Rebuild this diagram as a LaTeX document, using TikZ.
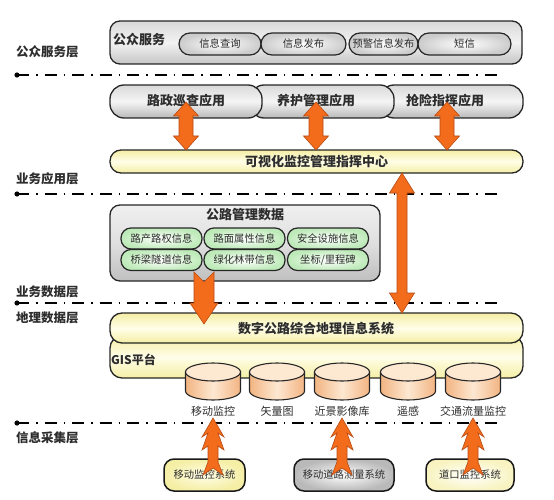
\documentclass[tikz,border=0pt]{standalone}
\usepackage{fontspec}
\setmainfont{Noto Sans CJK SC}
\usetikzlibrary{shapes.geometric}

\definecolor{arrfill}{RGB}{242,108,28}
\definecolor{arrline}{RGB}{185,75,20}
\definecolor{yelA}{RGB}{245,238,165}
\definecolor{yelB}{RGB}{255,254,232}
\definecolor{grnA}{RGB}{190,234,185}
\definecolor{cylA}{RGB}{242,180,130}
\definecolor{cylB}{RGB}{253,232,210}
\definecolor{txt}{RGB}{45,45,45}

\tikzset{
  layerline/.style={line width=1.5pt, dash pattern=on 12pt off 7pt on 1.5pt off 7pt},
  layerlabel/.style={anchor=west, inner sep=0pt, text=txt, font=\fontsize{12.5}{14}\selectfont\bfseries},
  boxtext/.style={inner sep=0pt, text=txt, font=\fontsize{11}{13}\selectfont},
  smalltext/.style={inner sep=0pt, text=txt, font=\fontsize{10.3}{12}\selectfont},
  bigtext/.style={inner sep=0pt, text=txt, font=\fontsize{13}{15}\selectfont\bfseries},
  outerbox/.style={draw=black!85, line width=1.3pt, rounded corners=10pt, top color=gray!30, bottom color=gray!45, middle color=gray!10},
  pubpill/.style={draw=black!85, line width=1.2pt, rounded corners=11pt, minimum height=22, inner color=white, outer color=gray!40},
  appbox/.style={draw=black!85, line width=1.3pt, rounded corners=14pt, minimum height=33, top color=gray!30, bottom color=gray!55, middle color=gray!8},
  yelbar/.style={draw=black!85, line width=1.3pt, rounded corners=11pt, top color=yelA, bottom color=yelA, middle color=yelB},
  grnpill/.style={draw=black!85, line width=1.2pt, rounded corners=10pt, minimum width=81, minimum height=21, inner color=white, outer color=grnA},
  srcbox/.style={draw=black!90, line width=1.5pt, rounded corners=10pt, minimum height=32},
  blockarrow/.style={fill=arrfill, draw=arrline, line width=0.6pt, line join=miter},
  cylbody/.style={draw=black!85, line width=1.1pt, left color=cylA, right color=cylA, middle color=cylB},
}

\begin{document}
\begin{tikzpicture}[x=1pt,y=1pt,yscale=-1]
\useasboundingbox (0,0) rectangle (554,500);

% layer separators
\foreach \ly in {75,194,303,423} {
  \draw[layerline] (17,\ly) -- (500,\ly);
  \fill (17,\ly) circle (2.6);
}
\node[layerlabel] (lab1) at (16,52) {公众服务层};
\node[layerlabel] (lab2) at (16,179) {业务应用层};
\node[layerlabel] (lab3) at (16,292) {业务数据层};
\node[layerlabel] (lab4) at (16,318) {地理数据层};
\node[layerlabel] (lab5) at (16,438) {信息采集层};

% public services
\node[outerbox, minimum width=412, minimum height=43] (pub) at (316,42.5) {};
\node[bigtext, anchor=west] (pubt) at (113,40) {公众服务};
\node[pubpill, minimum width=82] (p1) at (220,44) {};
\node[pubpill, minimum width=85] (p2) at (303.5,44) {};
\node[pubpill, minimum width=69] (p3) at (383.5,44) {};
\node[pubpill, minimum width=93] (p4) at (464.5,44) {};
\node[smalltext] at (p1) {信息查询};
\node[smalltext] at (p2) {信息发布};
\node[smalltext] at (p3) {预警信息发布};
\node[smalltext] at (p4) {短信};

% applications
\node[appbox, minimum width=143] (app3) at (451.5,101.5) {};
\node[appbox, minimum width=144] (app2) at (322,101.5) {};
\node[appbox, minimum width=152] (app1) at (186,101.5) {};
\node[bigtext] (app1t) at (186,101) {路政巡查应用};
\node[bigtext] (app2t) at (316,101) {养护管理应用};
\node[bigtext] (app3t) at (445,101) {抢险指挥应用};

\node[yelbar, minimum width=413, minimum height=23] (center) at (316.5,161.5) {};
\node[bigtext] (centert) at (center) {可视化监控管理指挥中心};

% road data
\node[outerbox, minimum width=270, minimum height=76, top color=gray!12, bottom color=gray!50, middle color=gray!25] (data) at (245,243) {};
\node[bigtext] (datat) at (245,215) {公路管理数据};
\node[grnpill] (g1) at (161.5,238.5) {};
\node[grnpill] (g2) at (244.5,238.5) {};
\node[grnpill] (g3) at (328,238.5) {};
\node[grnpill] (g4) at (161.5,260) {};
\node[grnpill] (g5) at (244.5,260) {};
\node[grnpill] (g6) at (328,260) {};
\node[smalltext] at (g1) {路产路权信息};
\node[smalltext] at (g2) {路面属性信息};
\node[smalltext] at (g3) {安全设施信息};
\node[smalltext] at (g4) {桥梁隧道信息};
\node[smalltext] at (g5) {绿化林带信息};
\node[smalltext] at (g6) {坐标/里程碑};

% GIS
\node[yelbar, rounded corners=12pt, minimum width=413, minimum height=42] (gisp) at (316.5,357) {};
\node[yelbar, rounded corners=12pt, minimum width=413, minimum height=30] (gis) at (316.5,328) {};
\node[bigtext] (gist) at (316,329) {数字公路综合地理信息系统};
\node[bigtext, anchor=west, font=\fontsize{12}{14}\selectfont\bfseries] (gispt) at (111,360) {GIS平台};

\foreach \cx/\cn/\ct in {213/c1/移动监控, 277/c2/矢量图, 342/c3/近景影像库, 408/c4/遥感, 473/c5/交通流量监控} {
  \draw[cylbody] (\cx-27.5,372) -- (\cx-27.5,391) arc[start angle=180, end angle=0, x radius=27.5, y radius=9] -- (\cx+27.5,372) -- cycle;
  \draw[draw=black!85, line width=1.1pt, fill=cylB] (\cx,372) ellipse [x radius=27.5, y radius=9];
  \node[boxtext] (\cn) at (\cx,411) {\ct};
}

% sources
\node[srcbox, minimum width=81, inner color=yelB, outer color=yelA] (s1) at (204.5,475) {};
\node[srcbox, minimum width=100, inner color=white, outer color=gray!55] (s2) at (344,475) {};
\node[srcbox, minimum width=88, inner color=white, outer color=yelA!70] (s3) at (470,475) {};
\node[smalltext] at (s1) {移动监控系统};
\node[smalltext] at (s2) {移动道路测量系统};
\node[smalltext] at (s3) {道口监控系统};

% arrows
\foreach \ax in {186,316,447}
  \draw[blockarrow] (\ax,102) -- (\ax+12.5,116) -- (\ax+7,116) -- (\ax+7,136) -- (\ax+12.5,136) -- (\ax,150)
    -- (\ax-12.5,136) -- (\ax-7,136) -- (\ax-7,116) -- (\ax-12.5,116) -- cycle;
\draw[blockarrow] (402,173) -- (414.5,193) -- (407,193) -- (407,293) -- (414.5,293) -- (402,313)
  -- (389.5,293) -- (397,293) -- (397,193) -- (389.5,193) -- cycle;
\draw[blockarrow] (194,272) -- (204,282) -- (214,272) -- (214,303) -- (218,303) -- (204,324)
  -- (190,303) -- (194,303) -- cycle;
\foreach \ax in {213,342,473}
  \draw[blockarrow] (\ax,418) -- (\ax+11,437) -- (\ax+5,433) -- (\ax+11,450) -- (\ax+5,446) -- (\ax+5,462)
    -- (\ax+10,475) -- (\ax,468) -- (\ax-10,475) -- (\ax-5,462) -- (\ax-5,446) -- (\ax-11,450)
    -- (\ax-5,433) -- (\ax-11,437) -- cycle;
\end{tikzpicture}
\end{document}
